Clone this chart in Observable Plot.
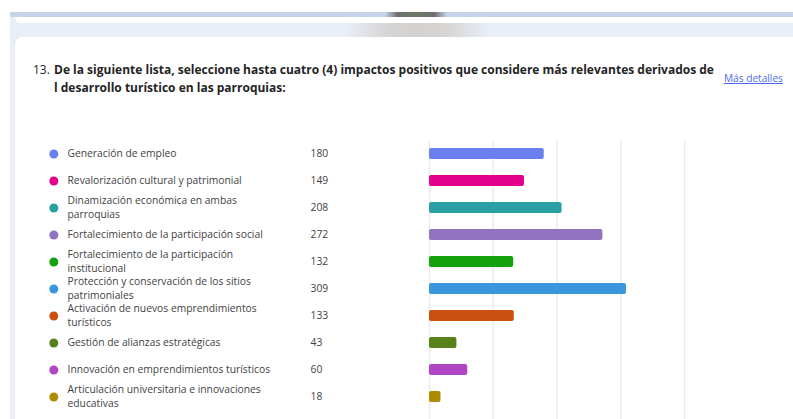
<!DOCTYPE html>
<html><head><meta charset="utf-8">
<script src="https://cdn.jsdelivr.net/npm/d3@7"></script>
<script src="https://cdn.jsdelivr.net/npm/@observablehq/plot@0.6"></script>
<style>
html,body{margin:0;padding:0;}
body{width:793px;height:419px;overflow:hidden;position:relative;background:#fff;font-family:"Open Sans",sans-serif;}
#backdrop{position:absolute;left:10px;top:12px;right:0;bottom:0;background:#e9eef7;}
#topstrip{position:absolute;left:10px;top:12px;right:0;height:4.5px;background:#c6d3ea;}
#topblob{position:absolute;left:385px;top:12px;width:62px;height:4.5px;background:linear-gradient(90deg,rgba(110,110,110,0),#6f6f6f 20%,#6b7a62 50%,#6f6f6f 80%,rgba(110,110,110,0));}
#prevcard{position:absolute;left:15px;top:16.5px;right:-20px;height:6.5px;background:#fff;border-radius:0 0 0 7px;}
#bandblob{position:absolute;left:345px;top:23px;width:145px;height:14px;background:linear-gradient(90deg,rgba(212,211,210,0),#d6d5d4 30%,#d3d2d1 50%,#d6d5d4 70%,rgba(212,211,210,0));}
#card{position:absolute;left:15px;top:37px;right:-20px;bottom:-20px;background:#fff;border-radius:8px 0 0 0;}
#qnum{position:absolute;left:33px;top:61px;line-height:18px;color:#242424;white-space:nowrap;}
#qtext{position:absolute;left:54px;top:61px;line-height:18px;color:#242424;font-weight:700;white-space:nowrap;}
#more{position:absolute;left:724px;top:70px;line-height:16px;color:#4f6bed;text-decoration:underline;white-space:nowrap;}
#chart{position:absolute;left:0;top:140px;}
</style>
</head><body>
<div id="backdrop"></div>
<div id="topstrip"></div>
<div id="topblob"></div>
<div id="prevcard"></div>
<div id="bandblob"></div>
<div id="card"></div>
<div id="qnum">13.</div>
<div id="qtext"><span id="line1"></span><br><span id="line2"></span></div>
<div id="more">Más detalles</div>
<div id="chart"></div>
<script>
const questionNumber = "13.";
const titleLines = ["De la siguiente lista, seleccione hasta cuatro (4) impactos positivos que considere más relevantes derivados de", "l desarrollo turístico en las parroquias:"];
const linkText = "Más detalles";

const categories = [
  "Generación de empleo",
  "Revalorización cultural y patrimonial",
  "Dinamización económica en ambas parroquias",
  "Fortalecimiento de la participación social",
  "Fortalecimiento de la participación institucional",
  "Protección y conservación de los sitios patrimoniales",
  "Activación de nuevos emprendimientos turísticos",
  "Gestión de alianzas estratégicas",
  "Innovación en emprendimientos turísticos",
  "Articulación universitaria e innovaciones educativas"
];
const labels = [
  "Generación de empleo",
  "Revalorización cultural y patrimonial",
  "Dinamización económica en ambas\nparroquias",
  "Fortalecimiento de la participación social",
  "Fortalecimiento de la participación\ninstitucional",
  "Protección y conservación de los sitios\npatrimoniales",
  "Activación de nuevos emprendimientos\nturísticos",
  "Gestión de alianzas estratégicas",
  "Innovación en emprendimientos turísticos",
  "Articulación universitaria e innovaciones\neducativas"
];
const counts = [180, 149, 208, 272, 132, 309, 133, 43, 60, 18];
const colors = ["#6b7fee", "#e3008c", "#2aa0a4", "#9373c0", "#13a10e", "#3a96dd", "#ca5010", "#57811b", "#b146c2", "#ae8c00"];
const gridTicks = [0, 100, 200, 300, 400];

// font fitting helpers
const ctx = document.createElement("canvas").getContext("2d");
function fit(text, weight, target) {
  ctx.font = `${weight} 100px "Open Sans"`;
  return 100 * target / ctx.measureText(text).width;
}
const titleSize = fit(titleLines[0], 700, 660);
document.getElementById("line1").textContent = titleLines[0];
document.getElementById("line2").textContent = titleLines[1];
document.getElementById("qtext").style.fontSize = titleSize + "px";
const qn = document.getElementById("qnum");
qn.textContent = questionNumber;
qn.style.fontSize = titleSize + "px";
const more = document.getElementById("more");
more.textContent = linkText;
more.style.fontSize = fit(linkText, 400, 59) + "px";

const labelSize = fit(labels[0], 400, 109);

const data = categories.map((c, i) => ({category: c, label: labels[i], count: counts[i]}));

const chart = Plot.plot({
  width: 793,
  height: 290,
  marginLeft: 429,
  marginRight: 109,
  marginTop: 0,
  marginBottom: 0,
  style: {fontFamily: '"Open Sans", sans-serif', background: "transparent"},
  x: {domain: [0, 400], axis: null},
  y: {domain: categories, axis: null, paddingInner: 0.593, paddingOuter: 0.289, insetBottom: 20.4},
  color: {domain: categories, range: colors},
  marks: [
    Plot.ruleX(gridTicks, {stroke: "#ebebeb", strokeWidth: 1.5}),
    Plot.barX(data, {x: "count", y: "category", fill: "category", rx: 2}),
    Plot.dot(data, {y: "category", fill: "category", r: 4.5, frameAnchor: "left", dx: 53.3 - 429}),
    Plot.text(data, {y: "category", text: "label", frameAnchor: "left", textAnchor: "start", dx: 67 - 429, dy: -1.5,
      fontSize: labelSize, lineHeight: 14.5 / labelSize, fill: "#424242"}),
    Plot.text(data, {y: "category", text: d => String(d.count), frameAnchor: "left", textAnchor: "start", dx: 310 - 429,
      fontSize: labelSize, fill: "#424242"})
  ]
});
document.getElementById("chart").appendChild(chart);
</script>
</body></html>
